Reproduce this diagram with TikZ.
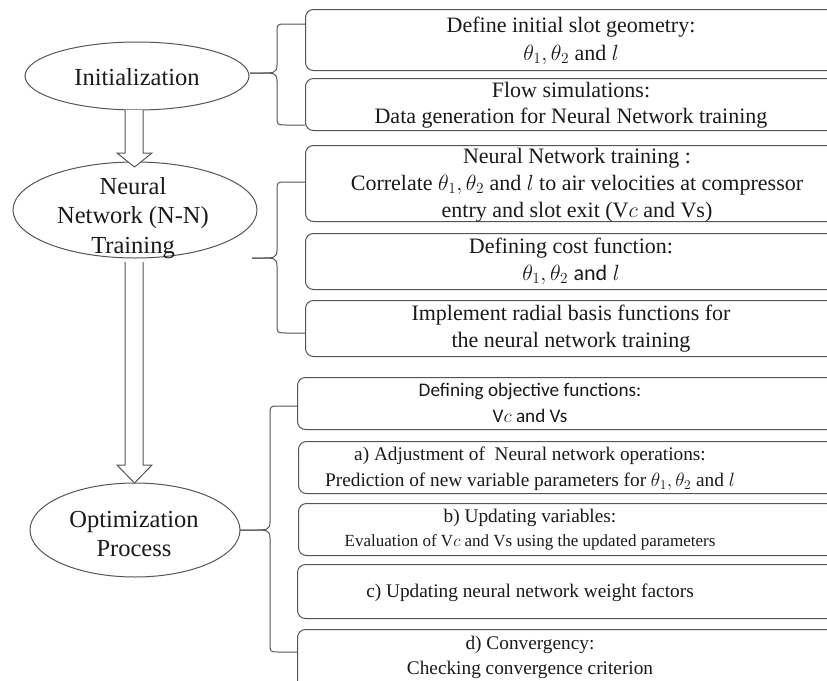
\RequirePackage{fix-cm}
\documentclass[tikz,border=0pt]{standalone}
\usepackage{fontspec}
\setmainfont{Liberation Serif}
\newfontfamily\calfont{Carlito}
\usetikzlibrary{shapes.geometric}
\definecolor{lc}{HTML}{555555}
\definecolor{tc}{HTML}{1A1A1A}
\newcommand\bt{\fontsize{22}{27}\selectfont}
\newcommand\lt{\fontsize{19.3}{26}\selectfont}
\newcommand\et{\fontsize{24.5}{29.5}\selectfont}
\tikzset{
  boxst/.style={draw=lc, line width=1pt, rounded corners=8pt, rectangle, anchor=north west,
     minimum width=600pt, inner sep=0pt, text width=0pt},
  ellst/.style={draw=lc, line width=1pt, ellipse, inner sep=0pt},
  txt/.style={text=tc, align=center, inner sep=0pt, font=\bt},
  ltxt/.style={text=tc, align=center, inner sep=0pt, font=\lt},
  etxt/.style={text=tc, align=center, inner sep=0pt, font=\et},
  arrowst/.style={draw=lc, line width=1pt, fill=white, line join=miter},
  bracest/.style={draw=lc, line width=1pt}
}
\newcommand\mybrace[6]{% xend, xvert, xtip, ytop, ymid, ybot
  \draw[bracest] (#1,#4) -- ({#2+9},#4) .. controls (#2,#4) .. (#2,{#4+9}) -- (#2,{#5-8})
    .. controls (#2,#5) and ({#2-4},#5) .. ({#2-14},#5) -- (#3,#5);
  \draw[bracest] (#3,#5) -- ({#2-14},#5) .. controls ({#2-4},#5) and (#2,#5) .. (#2,{#5+8})
    -- (#2,{#6-9}) .. controls (#2,#6) .. ({#2+9},#6) -- (#1,#6);
}
\begin{document}
\begin{tikzpicture}[x=1pt,y=-1pt]
\useasboundingbox (0,0) rectangle (827,680);
\clip (0,0) rectangle (827,680);
\fill[white] (0,0) rectangle (827,680);

% ellipses
\node[ellst, minimum width=224pt, minimum height=68pt] (init) at (137,76) {};
\node[ellst, minimum width=244pt, minimum height=96pt] (nn) at (135,210) {};
\node[ellst, minimum width=210pt, minimum height=94pt] (opt) at (135,530) {};
\node[etxt] (initt) at (137,77) {Initialization};
\node[etxt] (nnt) at (133,218) {Neural\\Network (N-N)\\Training};
\node[etxt] (optt) at (134,534) {Optimization\\Process};

% block arrows
\draw[arrowst] (125,110) -- (125,153) -- (117,153) -- (134.5,167) -- (152,153) -- (143,153) -- (143,110);
\draw[arrowst] (125,262) -- (125,465) -- (117,465) -- (134.5,483) -- (152,465) -- (143,465) -- (143,262);

% boxes
\node[boxst, minimum height=61pt] (b1) at (305,9) {};
\node[boxst, minimum height=52pt] (b2) at (305,78) {};
\node[boxst, minimum height=76pt] (b3) at (305,145) {};
\node[boxst, minimum height=56pt] (b4) at (305,233) {};
\node[boxst, minimum height=56pt] (b5) at (305,300) {};
\node[boxst, minimum height=52pt] (b6) at (297,377) {};
\node[boxst, minimum height=52pt] (b7) at (298,441) {};
\node[boxst, minimum height=52pt] (b8) at (298,503) {};
\node[boxst, minimum height=54pt] (b9) at (297,564) {};
\node[boxst, minimum height=80pt] (b10) at (297,629) {};

% box texts
\node[txt] (t1) at (571,41) {Define initial slot geometry:\\[1pt]$\theta_1,\theta_2$ and $l$};
\node[txt] (t2) at (571,105) {Flow simulations:\\[-1pt]Data generation for Neural Network training};
\node[txt] (t3) at (577,185) {Neural Network training :\\Correlate $\theta_1,\theta_2$ and $l$ to air velocities at compressor\\entry and slot exit (V$c$ and Vs)};
\node[txt] (t4) at (571,261.5) {Defining cost function:\\$\theta_1,\theta_2$ {\calfont and} $l$};
\node[txt] (t5) at (571,329) {Implement radial basis functions for\\the neural network training};
\node[ltxt, font=\calfont\fontsize{19.2}{26}\selectfont] (t6) at (530,403) {Defining objective functions:\\V$c$ and Vs};
\node[ltxt] (t7) at (530,469) {a) Adjustment of\ \ Neural network operations:\\Prediction of new variable parameters for $\theta_1,\theta_2$ and $l$};
\node[ltxt] (t8) at (530,530) {b) Updating variables:\\[-2pt]{\fontsize{17}{20}\selectfont Evaluation of V$c$ and Vs using the updated parameters}};
\node[ltxt] (t9) at (530,593) {c) Updating neural network weight factors};
\node[ltxt] (t10) at (530,657.5) {d) Convergency:\\[-1pt]Checking convergence criterion};

% braces
\mybrace{305}{277}{250}{24}{73}{125}
\mybrace{305}{277}{252}{182}{258}{333}
\mybrace{298}{270}{240}{406}{530}{652}
\end{tikzpicture}
\end{document}
